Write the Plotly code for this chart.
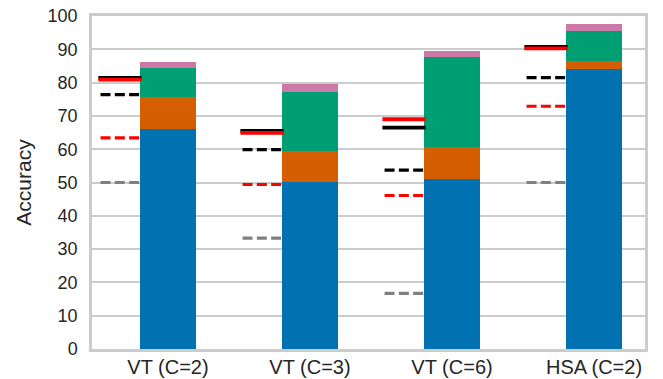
import plotly.graph_objects as go

# Categories and stacked accuracy components (%)
categories = ["VT (C=2)", "VT (C=3)", "VT (C=6)", "HSA (C=2)"]
base_acc = [66.0, 50.2, 51.0, 84.0]      # blue
gain_a = [9.6, 9.3, 9.6, 2.4]            # orange
gain_b = [8.7, 17.6, 27.0, 9.0]          # green
gain_c = [1.8, 2.4, 1.8, 2.1]            # pink

# Reference levels drawn beside each bar
chance = [50.0, 33.3, 16.7, 50.0]        # grey dashed
red_dashed = [63.4, 49.4, 46.1, 72.9]
black_dashed = [76.4, 59.9, 53.7, 81.5]
black_solid = [81.4, 65.5, 66.5, 90.7]
red_solid = [80.9, 64.9, 69.0, 90.3]

xpos = list(range(len(categories)))
BAR_W = 0.4

fig = go.Figure()

seg_colors = ["#0072B2", "#D55E00", "#009E73", "#CC79A7"]
for vals, col in zip([base_acc, gain_a, gain_b, gain_c], seg_colors):
    fig.add_trace(go.Bar(x=xpos, y=vals, width=BAR_W, marker=dict(color=col, line=dict(width=0)),
                         showlegend=False, hoverinfo="skip"))


def segments(levels, start, end):
    xs, ys = [], []
    for xc, v in zip(xpos, levels):
        xs += [xc + start, xc + end, None]
        ys += [v, v, None]
    return xs, ys


DASH = "10px,4.3px"
line_specs = [
    (chance, "#808080", DASH, 3.2, -0.475, -0.2),
    (red_dashed, "#FF0000", DASH, 3.2, -0.475, -0.2),
    (black_dashed, "#000000", DASH, 3.2, -0.475, -0.2),
    (black_solid, "#000000", "solid", 3.8, -0.49, -0.186),
    (red_solid, "#FF0000", "solid", 3.8, -0.49, -0.186),
]
for levels, col, dash, w, s, e in line_specs:
    xs, ys = segments(levels, s, e)
    fig.add_trace(go.Scatter(x=xs, y=ys, mode="lines", line=dict(color=col, width=w, dash=dash),
                             showlegend=False, hoverinfo="skip"))

grid = "#cccccc"
fig.update_layout(
    width=663, height=379,
    margin=dict(l=92, r=18, t=16, b=30),
    barmode="stack",
    plot_bgcolor="white", paper_bgcolor="white",
    font=dict(family="Liberation Sans, Arial, sans-serif", color="#262626"),
    xaxis=dict(range=[-0.535, 3.359], tickvals=xpos, ticktext=categories,
               tickfont=dict(size=20), showgrid=False, zeroline=False, automargin=False,
               showline=True, linecolor=grid, linewidth=2.5, mirror=True, ticks="",
               ticklabelstandoff=-2),
    yaxis=dict(range=[0, 100], dtick=10, tickfont=dict(size=18), showgrid=True,
               gridcolor=grid, gridwidth=1.8, zeroline=False, automargin=False,
               showline=True, linecolor=grid, linewidth=2.5, mirror=True, ticks="",
               ticklabelstandoff=8,
               title=dict(text="Accuracy", font=dict(size=21), standoff=11)),
)

fig.write_html("out.html")
